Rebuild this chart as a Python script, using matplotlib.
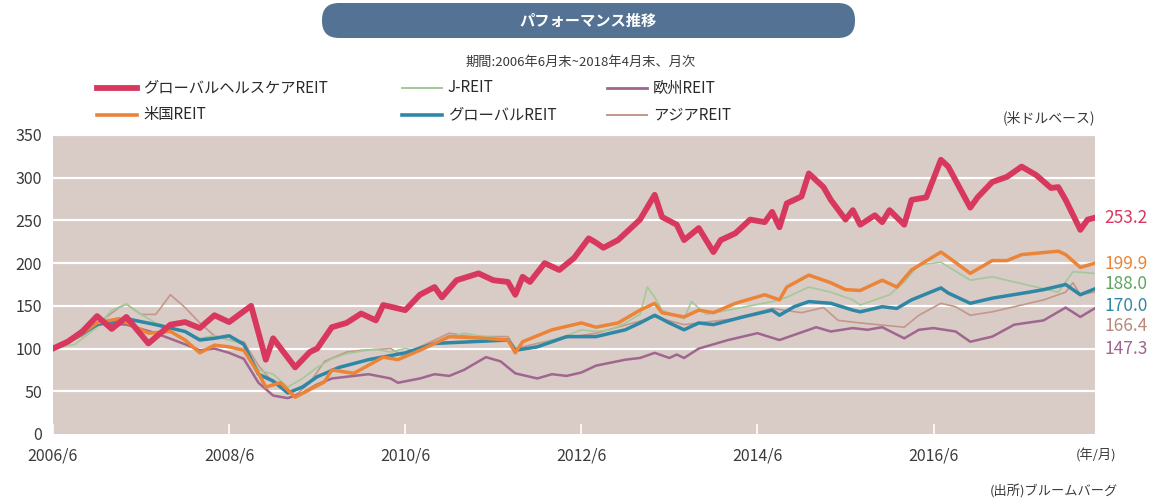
import matplotlib
matplotlib.use('Agg')
import matplotlib.pyplot as plt
from matplotlib.patches import FancyBboxPatch

plt.rcParams['font.family'] = ['Noto Sans CJK JP', 'DejaVu Sans']

# months since 2006/6, values (2006/6 = 100)
hc_m = [0, 2, 4, 6, 8, 10, 13, 16, 18, 20, 22, 24, 27, 29, 30, 33, 35, 36, 38, 40, 42, 44, 45, 48,
        50, 52, 53, 55, 58, 60, 62, 63, 64, 65, 67, 69, 71, 73, 74, 75, 77, 80, 82, 83, 85, 86, 88,
        90, 91, 93, 95, 97, 98, 99, 100, 102, 103, 105, 106, 108, 109, 110, 112, 113, 114, 116,
        117, 119, 121, 122, 125, 126, 128, 130, 132, 134, 136, 137, 138, 140, 141, 142]
hc_v = [100, 108, 120, 138, 123, 137, 106, 128, 131, 124, 139, 131, 150, 87, 112, 78, 96, 100,
        125, 130, 141, 133, 151, 145, 163, 172, 160, 180, 188, 180, 178, 163, 184, 178, 200, 192,
        206, 229, 224, 218, 227, 251, 280, 254, 245, 227, 241, 213, 227, 235, 251, 248, 260, 242,
        270, 278, 305, 289, 274, 251, 262, 245, 256, 248, 262, 245, 274, 277, 321, 313, 265, 277,
        295, 301, 313, 303, 288, 289, 274, 239, 251, 253.2]

us_m = [0, 3, 6, 9, 13, 16, 18, 20, 22, 24, 26, 28, 29, 31, 33, 35, 37, 38, 41, 45, 47, 50, 54,
        59, 62, 63, 64, 68, 72, 74, 77, 80, 82, 83, 86, 88, 90, 93, 97, 99, 100, 103, 106, 108,
        110, 113, 115, 117, 121, 122, 125, 128, 130, 132, 137, 138, 140, 142]
us_v = [100, 112, 130, 135, 118, 120, 110, 95, 104, 102, 98, 71, 55, 60, 43, 52, 61, 75, 71, 90,
        87, 98, 114, 112, 110, 95, 108, 122, 130, 125, 130, 145, 153, 142, 137, 145, 142, 153,
        163, 157, 172, 186, 177, 169, 168, 180, 172, 192, 213, 207, 188, 203, 203, 210, 214, 210,
        195, 199.9]

jp_m = [0, 3, 6, 8, 10, 12, 14, 16, 18, 20, 22, 24, 26, 28, 30, 32, 34, 36, 38, 40, 42, 44, 46,
        48, 50, 52, 54, 56, 58, 60, 62, 63, 65, 68, 70, 72, 74, 76, 78, 80, 81, 82, 83, 85, 86,
        87, 89, 92, 95, 98, 100, 103, 106, 109, 110, 114, 116, 118, 121, 125, 128, 131, 134, 137,
        139, 142]
jp_v = [100, 105, 125, 145, 152, 140, 130, 125, 120, 112, 115, 110, 105, 75, 70, 55, 65, 78, 88,
        94, 97, 99, 96, 100, 97, 106, 113, 118, 115, 113, 112, 98, 100, 110, 115, 122, 120, 122,
        130, 140, 172, 160, 145, 138, 135, 155, 140, 145, 150, 155, 160, 172, 166, 157, 151, 163,
        178, 198, 201, 180, 184, 178, 172, 166, 190, 188.0]

gl_m = [0, 3, 6, 10, 14, 18, 20, 22, 24, 26, 28, 30, 32, 34, 36, 39, 43, 48, 52, 57, 62, 63, 66,
        70, 74, 78, 80, 82, 84, 86, 88, 90, 94, 98, 99, 101, 103, 106, 109, 110, 113, 115, 117,
        121, 122, 125, 128, 133, 135, 138, 140, 142]
gl_v = [100, 112, 128, 135, 128, 120, 110, 112, 115, 105, 70, 62, 48, 55, 67, 78, 87, 95, 106,
        108, 110, 98, 102, 114, 114, 122, 130, 139, 130, 122, 130, 128, 137, 145, 139, 149, 155,
        153, 145, 143, 149, 147, 157, 171, 165, 153, 159, 166, 169, 175, 163, 170.0]

eu_m = [0, 3, 6, 10, 14, 18, 20, 22, 24, 26, 28, 30, 32, 34, 36, 38, 40, 43, 46, 47, 50, 52, 54,
        56, 59, 61, 63, 66, 68, 70, 72, 74, 78, 80, 82, 84, 85, 86, 88, 92, 96, 99, 101, 104, 106,
        109, 111, 113, 116, 118, 120, 123, 125, 128, 131, 135, 138, 140, 142]
eu_v = [100, 112, 130, 128, 118, 105, 98, 100, 95, 88, 60, 45, 42, 48, 58, 65, 67, 70, 65, 60, 65,
        70, 68, 75, 90, 85, 71, 65, 70, 68, 72, 80, 87, 89, 95, 89, 93, 89, 100, 110, 118, 110,
        116, 125, 120, 124, 122, 125, 112, 122, 124, 120, 108, 114, 128, 133, 148, 137, 147.3]

as_m = [0, 4, 7, 9, 10, 12, 14, 16, 18, 20, 22, 24, 26, 28, 30, 33, 35, 37, 40, 42, 46, 48, 50,
        54, 57, 62, 63, 68, 74, 82, 86, 93, 98, 102, 105, 107, 110, 116, 118, 121, 123, 125, 128,
        132, 135, 138, 139, 140, 142]
as_v = [100, 115, 135, 148, 152, 140, 140, 163, 148, 130, 115, 110, 108, 80, 60, 45, 60, 85, 96,
        98, 100, 90, 102, 118, 114, 114, 100, 110, 118, 137, 128, 135, 147, 142, 148, 133, 130,
        125, 139, 153, 149, 139, 143, 151, 157, 166, 177, 163, 166.4]

tick_m = [0, 24, 48, 72, 96, 120]
tick_labels = ['2006/6', '2008/6', '2010/6', '2012/6', '2014/6', '2016/6']

names = ['グローバルヘルスケアREIT', 'J-REIT', '欧州REIT', '米国REIT', 'グローバルREIT', 'アジアREIT']
colors = {'hc': '#d8375e', 'jp': '#a3c99a', 'eu': '#a0668f', 'us': '#ec8437',
          'gl': '#2f87a6', 'as': '#c4978a'}
end_labels = ['253.2', '199.9', '188.0', '170.0', '166.4', '147.3']
end_colors = ['#d8375e', '#ec8437', '#5fa55f', '#2f87a6', '#b88a7d', '#a0668f']

W, H = 1168, 504
fig = plt.figure(figsize=(W / 100, H / 100), dpi=100)
fig.patch.set_facecolor('white')

ax = fig.add_axes([53 / W, (H - 434) / H, (1095 - 53) / W, (434 - 135) / H])
ax.set_facecolor('#d9cbc6')
for y in range(50, 351, 50):
    ax.axhline(y, color='white', lw=1.6, zorder=1)

ax.plot(as_m, as_v, color=colors['as'], lw=1.2, zorder=3)
ax.plot(jp_m, jp_v, color=colors['jp'], lw=1.2, zorder=3)
ax.plot(eu_m, eu_v, color=colors['eu'], lw=1.8, zorder=3)
ax.plot(gl_m, gl_v, color=colors['gl'], lw=2.5, zorder=4)
ax.plot(us_m, us_v, color=colors['us'], lw=2.5, zorder=4)
ax.plot(hc_m, hc_v, color=colors['hc'], lw=4.2, zorder=5)

ax.set_xlim(0, 142)
ax.set_ylim(0, 350)
ax.set_yticks(range(0, 351, 50))
ax.set_xticks(tick_m)
ax.set_xticklabels(tick_labels)
for s in ax.spines.values():
    s.set_visible(False)
ax.tick_params(axis='y', length=0, labelsize=11.5, labelcolor='#3a3a3a', pad=8)
ax.tick_params(axis='x', direction='in', length=7, width=1.2, color='white',
               labelsize=11.5, labelcolor='#3a3a3a', pad=10)

end_y = [218, 264, 284, 306, 326, 349]
for lab, c, yp in zip(end_labels, end_colors, end_y):
    fig.text(1104 / W, (H - yp) / H, lab, color=c, fontsize=12.5, va='center', ha='left')

# title box
tax = fig.add_axes([322 / W, (H - 38) / H, 533 / W, 35 / H])
tax.set_xlim(0, 533)
tax.set_ylim(0, 35)
tax.axis('off')
tax.add_patch(FancyBboxPatch((0, 0), 533, 35, boxstyle='round,pad=0,rounding_size=17',
                             fc='#537294', ec='none'))
tax.text(266, 17.5, 'パフォーマンス推移', color='white', fontsize=11, fontweight='bold',
         ha='center', va='center')

fig.text(581 / W, (H - 62) / H, '期間:2006年6月末~2018年4月末、月次', fontsize=9.5,
         color='#3a3a3a', ha='center', va='center')

# legend
leg = [('hc', 4.2, 97, 88), ('jp', 1.4, 402, 88), ('eu', 2.0, 607, 88),
       ('us', 2.6, 97, 115), ('gl', 2.6, 402, 115), ('as', 1.4, 607, 115)]
for (key, lw, x0, yp), name in zip(leg, names):
    yy = (H - yp) / H
    fig.add_artist(plt.Line2D([x0 / W, (x0 + 40) / W], [yy, yy], color=colors[key], lw=lw))
    fig.text((x0 + 46) / W, yy, name, fontsize=11, color='#2a2a2a', va='center', ha='left')

fig.text(1095 / W, (H - 118) / H, '(米ドルベース)', fontsize=10, color='#3a3a3a',
         ha='right', va='center')
fig.text(1116 / W, (H - 455) / H, '(年/月)', fontsize=9.5, color='#3a3a3a',
         ha='right', va='center')
fig.text(1118 / W, (H - 492) / H, '(出所)ブルームバーグ', fontsize=9.5, color='#3a3a3a',
         ha='right', va='center')

fig.savefig('out.png', dpi=100)
